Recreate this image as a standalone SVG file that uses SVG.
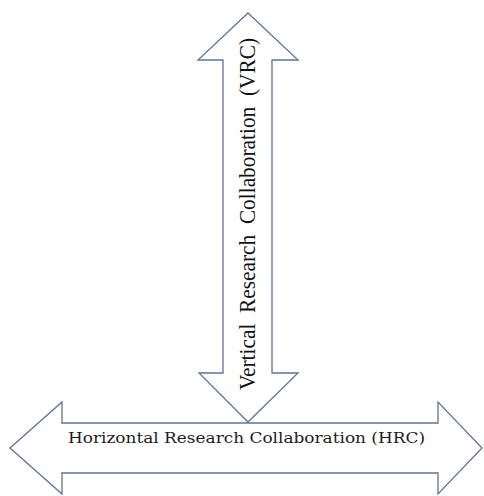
<svg xmlns="http://www.w3.org/2000/svg" width="484" height="496" viewBox="0 0 484 496">
  <style>
    .arrow { fill: #ffffff; stroke: #5f7494; stroke-width: 1.3; stroke-linejoin: miter; }
    .hlabel { font-family: "DejaVu Serif", "Liberation Serif", serif; font-size: 15px; fill: #1c1c1c; }
    .vlabel { font-family: "Liberation Serif", "Times New Roman", serif; font-size: 23px; fill: #111111; white-space: pre; }
  </style>
  <rect width="484" height="496" fill="#ffffff"/>
  <g id="hrc">
    <polygon class="arrow" points="10,448 62,402 62,423 438,423 438,402 482,448 438,494 438,473 62,473 62,494"/>
    <text class="hlabel" x="68" y="443" textLength="357" lengthAdjust="spacingAndGlyphs">Horizontal Research Collaboration (HRC)</text>
  </g>
  <g id="vrc">
    <polygon class="arrow" points="248,13 298,60 272,60 272,373 298,373 248,422 199,373 223,373 223,60 198,60"/>
    <text class="vlabel" xml:space="preserve" transform="translate(255,390) rotate(-90)" x="0" y="0" textLength="352" lengthAdjust="spacingAndGlyphs">Vertical  Research  Collaboration  (VRC)</text>
  </g>
  <g id="connectors"></g>
</svg>
